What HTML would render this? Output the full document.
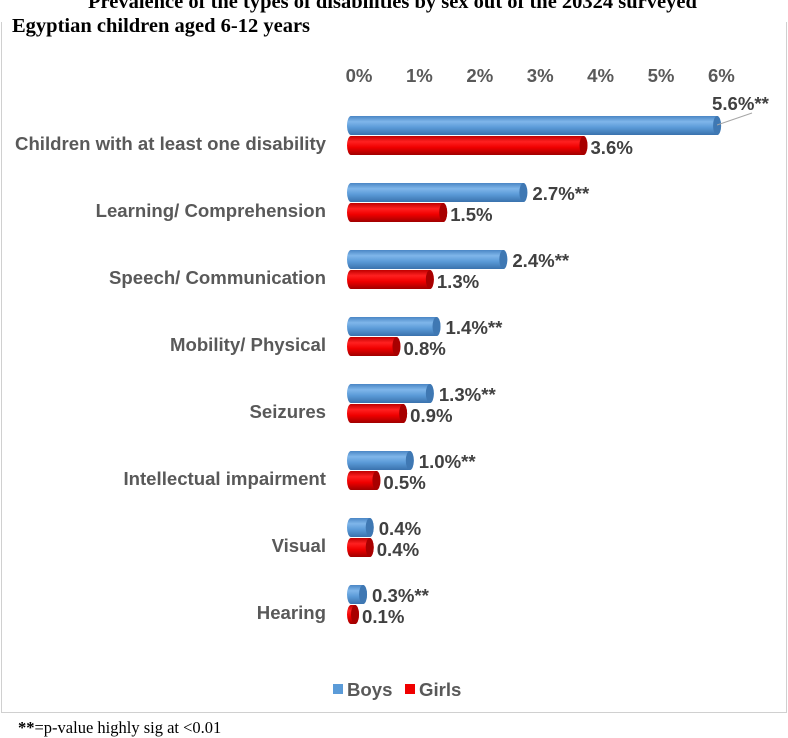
<!DOCTYPE html>
<html><head><meta charset="utf-8"><style>
body{margin:0;width:788px;height:738px;background:#fff;position:relative;overflow:hidden;font-family:"Liberation Sans",sans-serif}
.t{position:absolute;font-family:"Liberation Serif",serif;font-weight:bold;font-size:20.5px;color:#000;white-space:nowrap}
</style></head><body>
<div class="t" style="left:88px;top:-9px">Prevalence of the types of disabilities by sex out of the 20324 surveyed</div>
<div style="position:absolute;left:1px;top:22px;width:784px;height:690px;border:1px solid #d0d0d0;border-top:none"></div>
<div class="t" style="left:12px;top:15px">Egyptian children aged 6-12 years</div>
<svg id="c" width="788" height="738" style="position:absolute;left:0;top:0">
<defs>
<linearGradient id="gb" x1="0" y1="0" x2="0" y2="1"><stop offset="0" stop-color="#4a86c5"/><stop offset="0.3" stop-color="#7fb6ea"/><stop offset="0.6" stop-color="#5b9bd8"/><stop offset="1" stop-color="#3a72ad"/></linearGradient>
<linearGradient id="gr" x1="0" y1="0" x2="0" y2="1"><stop offset="0" stop-color="#c00000"/><stop offset="0.3" stop-color="#ff2020"/><stop offset="0.6" stop-color="#f00000"/><stop offset="1" stop-color="#a00000"/></linearGradient>
</defs>
</svg>
<div style="position:absolute;left:18px;top:718px;font-family:'Liberation Serif',serif;font-size:16.5px"><b>**</b>=p-value highly sig at &lt;0.01</div>
<script>
const categories=["Children with at least one disability","Learning/ Comprehension","Speech/ Communication","Mobility/ Physical","Seizures","Intellectual impairment","Visual","Hearing"];
const boys=[5.6,2.7,2.4,1.4,1.3,1.0,0.4,0.3];
const girls=[3.6,1.5,1.3,0.8,0.9,0.5,0.4,0.1];
const boysLabels=["5.6%**","2.7%**","2.4%**","1.4%**","1.3%**","1.0%**","0.4%","0.3%**"];
const girlsLabels=["3.6%","1.5%","1.3%","0.8%","0.9%","0.5%","0.4%","0.1%"];
const ticks=[0,1,2,3,4,5,6];
const svg=document.getElementById('c');const NS='http://www.w3.org/2000/svg';
const x0=347,sc=66.8,row0=116,rowH=67,bh=19,fs=18.6;
const xs=v=>x0+v*sc, ys=i=>row0+i*rowH;
function el(t,a,txt){const e=document.createElementNS(NS,t);for(const k in a)e.setAttribute(k,a[k]);if(txt!=null)e.textContent=txt;svg.appendChild(e);return e;}
ticks.forEach(t=>{const e=el('text',{x:359+t*60.4,y:82,'text-anchor':'middle','font-size':fs,'font-weight':'bold',fill:'#595959'},t+'%');
});
function cyl(v,y,g,edge,name){const x2=Math.max(xs(v),x0+12);
const r=el('path',{d:`M${x0+4},${y} L${x2-4},${y} A4,${bh/2} 0 0 1 ${x2-4},${y+bh} L${x0+4},${y+bh} A4,${bh/2} 0 0 1 ${x0+4},${y}Z`,fill:`url(#${g})`});

el('ellipse',{cx:x2-4,cy:y+bh/2,rx:4,ry:bh/2,fill:edge});return x2;}
categories.forEach((c,i)=>{const y=ys(i);
const l=el('text',{x:326,y:y+34,'text-anchor':'end','font-size':fs,'font-weight':'bold',fill:'#595959'},c);

const bx=cyl(boys[i],y,'gb','#3f78b3','bar-boys');
const gx=cyl(girls[i],y+bh+1,'gr','#a80000','bar-girls');
let tx=bx+5,ty=y+17;
if(i===0){tx=712;ty=y-6;el('line',{x1:bx-4,y1:y+9,x2:752,y2:y-3,stroke:'#a6a6a6','stroke-width':1});}
const a=el('text',{x:tx,y:ty,'font-size':fs,'font-weight':'bold',fill:'#404040'},boysLabels[i]);

const b=el('text',{x:gx+3,y:y+bh+19,'font-size':fs,'font-weight':'bold',fill:'#404040'},girlsLabels[i]);

});
const lb=el('rect',{x:333,y:684,width:10,height:10,fill:'#5b9bd8'});
const lbt=el('text',{x:347,y:696,'font-size':fs,'font-weight':'bold',fill:'#595959'},'Boys');
const lg=el('rect',{x:405,y:684,width:10,height:10,fill:'#f00000'});
const lgt=el('text',{x:419,y:696,'font-size':fs,'font-weight':'bold',fill:'#595959'},'Girls');
</script>
</body></html>
